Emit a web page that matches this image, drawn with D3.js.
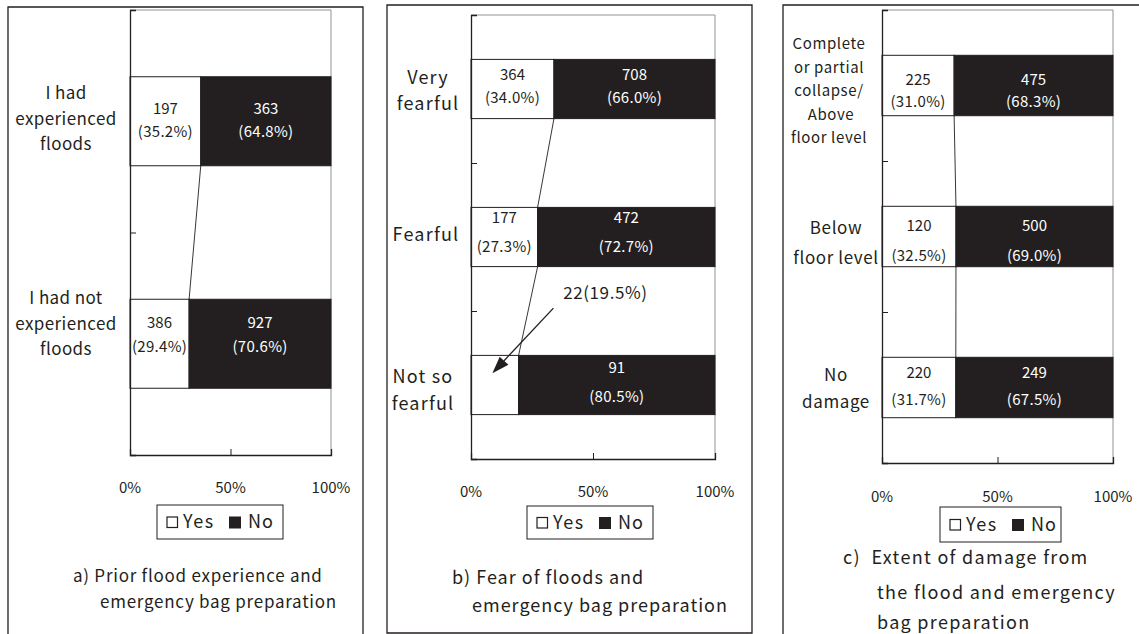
<!DOCTYPE html>
<html><head><meta charset="utf-8">
<script src="https://cdn.jsdelivr.net/npm/d3@7"></script>
<style>
body{margin:0;background:#fff}
svg{display:block}
text{font-family:"Noto Sans CJK JP","Noto Sans",sans-serif;fill:#231f20}
</style>
</head><body>
<svg id="chart" width="1139" height="634"></svg>
<script>
// ---------------- DATA ----------------
const seriesNames = ["Yes", "No"];
const xTickValues = [0, 0.5, 1];
const xTickLabels = ["0%", "50%", "100%"];

const catsA = [["I had", "experienced", "floods"], ["I had not", "experienced", "floods"]];
const yesCountA = [197, 386];
const noCountA = [363, 927];
const yesPctA = [35.2, 29.4];
const noPctA = [64.8, 70.6];
const captionA = ["a) Prior flood experience and", "emergency bag preparation"];

const catsB = [["Very", "fearful"], ["Fearful"], ["Not so", "fearful"]];
const yesCountB = [364, 177, 22];
const noCountB = [708, 472, 91];
const yesPctB = [34.0, 27.3, 19.5];
const noPctB = [66.0, 72.7, 80.5];
const captionB = ["b) Fear of floods and", "emergency bag preparation"];

const catsC = [["Complete", "or partial", "collapse/", "\u00a0Above", "floor level"], ["Below", "floor level"], ["No", "damage"]];
const yesCountC = [225, 120, 220];
const noCountC = [475, 500, 249];
const yesPctC = [31.0, 32.5, 31.7];
const noPctC = [68.3, 69.0, 67.5];
const captionC = ["c)  Extent of damage from", "the flood and emergency", "bag preparation"];

// ---------------- DRAWING ----------------
const INK = "#231f20";
const svg = d3.select("#chart");
const fmtPct = d3.format(".1f");

function drawPanel(cfg) {
  const n = cfg.cats.length;
  const rows = cfg.cats.map((c, i) => ({ i, Yes: cfg.yesPct[i], No: cfg.noPct[i] }));
  const counts = { Yes: cfg.yesCount, No: cfg.noCount };
  const pcts = { Yes: cfg.yesPct, No: cfg.noPct };
  const stacked = d3.stack().keys(seriesNames).offset(d3.stackOffsetExpand)(rows);
  const P = cfg.plot;
  const x = d3.scaleLinear().domain([0, 1]).range([P.l, P.r]);
  const y = d3.scaleBand().domain(d3.range(n)).range([P.t, P.b]).paddingInner(0.6).paddingOuter(0.3);
  const yb = d3.scaleLinear().domain([0, n]).range([P.t, P.b]);
  const g = svg.append("g");

  // outer frame
  const F = cfg.frame;
  const fp = d3.path();
  fp.moveTo(F.x0, F.y1); fp.lineTo(F.x0, F.y0); fp.lineTo(F.x1, F.y0); fp.lineTo(F.x1, F.y1);
  if (F.closed) fp.closePath();
  g.append("path").attr("d", fp.toString()).attr("fill", "none").attr("stroke", INK).attr("stroke-width", 1.3);

  // plot-area border (top / right)
  const pp = d3.path();
  pp.moveTo(P.l, P.t); pp.lineTo(P.r, P.t); pp.lineTo(P.r, P.b);
  g.append("path").attr("d", pp.toString()).attr("fill", "none").attr("stroke", "#8e949a").attr("stroke-width", 1);

  // bars
  const layer = g.selectAll(".layer").data(stacked).join("g")
    .attr("fill", d => d.key === "Yes" ? "#fff" : INK)
    .attr("stroke", INK).attr("stroke-width", 1);
  layer.selectAll("rect").data(d => d).join("rect")
    .attr("x", d => x(d[0]))
    .attr("width", d => x(d[1]) - x(d[0]))
    .attr("y", d => y(d.data.i))
    .attr("height", y.bandwidth());

  // series lines joining Yes ends
  const yesLayer = stacked[0];
  for (let i = 0; i < n - 1; i++) {
    g.append("line")
      .attr("x1", x(yesLayer[i][1])).attr("y1", y(i) + y.bandwidth())
      .attr("x2", x(yesLayer[i + 1][1])).attr("y2", y(i + 1))
      .attr("stroke", INK).attr("stroke-width", 0.9);
  }

  // axes
  const ax = g.append("g").attr("transform", `translate(0,${P.b})`)
    .call(d3.axisBottom(x).tickValues(xTickValues).tickSize(-6).tickFormat(""));
  ax.select(".domain").attr("stroke", INK).attr("stroke-width", 1.3);
  ax.selectAll(".tick line").attr("stroke", INK);
  const ay = g.append("g").attr("transform", `translate(${P.l},0)`)
    .call(d3.axisLeft(yb).tickValues(d3.range(n + 1)).tickSize(-6).tickFormat(""));
  ay.select(".domain").attr("stroke", INK).attr("stroke-width", 1.3);
  ay.selectAll(".tick line").attr("stroke", INK);

  // x tick labels
  g.selectAll(".xl").data(xTickValues).join("text")
    .attr("x", d => x(d)).attr("y", cfg.tickLabelY).attr("dy", "0.35em")
    .attr("text-anchor", "middle").style("font-size", "15px")
    .text((d, i) => xTickLabels[i]);

  // value labels
  stacked.forEach(s => {
    s.forEach((d, i) => {
      if (s.key === "Yes" && cfg.calloutIndex === i) return;
      const cx = (x(d[0]) + x(d[1])) / 2;
      const cy = y(i) + y.bandwidth() / 2;
      const col = s.key === "Yes" ? INK : "#fff";
      g.append("text").attr("x", cx).attr("y", cy + cfg.valDy[i][0]).attr("dy", "0.35em")
        .attr("text-anchor", "middle").style("font-size", "15px").style("fill", col)
        .text(counts[s.key][i]);
      g.append("text").attr("x", cx).attr("y", cy + cfg.valDy[i][1]).attr("dy", "0.35em")
        .attr("text-anchor", "middle").style("font-size", "15px").style("fill", col)
        .style("letter-spacing", "0.3px")
        .text(`(${fmtPct(pcts[s.key][i])}%)`);
    });
  });

  // category labels
  cfg.cats.forEach((lines, i) => {
    const lh = cfg.catLineH[i];
    const cy = y(i) + y.bandwidth() / 2 + cfg.catDy[i];
    const top = cy - (lines.length - 1) * lh / 2;
    lines.forEach((t, j) => {
      g.append("text").attr("x", cfg.catX[i]).attr("y", top + j * lh).attr("dy", "0.35em")
        .attr("text-anchor", "middle").style("font-size", cfg.catFont[i] + "px")
        .style("letter-spacing", cfg.catLS + "px")
        .text(t);
    });
  });

  // legend
  const L = cfg.legend;
  const lg = g.append("g").attr("transform", `translate(${L.x},${L.y})`);
  lg.append("rect").attr("width", L.w).attr("height", L.h).attr("fill", "#fff").attr("stroke", INK).attr("stroke-width", 1);
  const cyL = L.h / 2;
  lg.append("rect").attr("x", 10).attr("y", cyL - 5).attr("width", 10.5).attr("height", 10.5)
    .attr("fill", "#fff").attr("stroke", INK).attr("stroke-width", 1.2);
  lg.append("text").attr("x", 26).attr("y", cyL).attr("dy", "0.36em").style("font-size", "18px")
    .style("letter-spacing", "1.5px").text(seriesNames[0]);
  lg.append("rect").attr("x", 72).attr("y", cyL - 5.5).attr("width", 12).attr("height", 12).attr("fill", INK);
  lg.append("text").attr("x", 91).attr("y", cyL).attr("dy", "0.36em").style("font-size", "18px")
    .style("letter-spacing", "1px").text(seriesNames[1]);

  // caption
  cfg.caption.forEach((t, j) => {
    g.append("text").attr("x", cfg.capX[j]).attr("y", cfg.capY[j]).attr("dy", "0.35em")
      .style("font-size", cfg.capFont + "px").style("letter-spacing", cfg.capLS + "px")
      .style("white-space", "pre").text(t);
  });

  return { g, x, y, stacked };
}

// Panel a
drawPanel({
  cats: catsA, yesCount: yesCountA, noCount: noCountA, yesPct: yesPctA, noPct: noPctA, caption: captionA,
  frame: { x0: 8, y0: 7, x1: 363, y1: 640, closed: false },
  plot: { l: 130, t: 10, r: 331, b: 455 },
  catX: [66, 66], catFont: [17, 17], catLineH: [25.5, 25.5], catDy: [-2.5, -20], catLS: 0.4,
  valDy: [[-13, 10], [-21, 3]],
  tickLabelY: 488,
  legend: { x: 157, y: 505, w: 126, h: 34 },
  capX: [73, 100], capY: [576, 602], capFont: 17, capLS: 0.75
});

// Panel b
const pb = drawPanel({
  cats: catsB, yesCount: yesCountB, noCount: noCountB, yesPct: yesPctB, noPct: noPctB, caption: captionB,
  frame: { x0: 387, y0: 5, x1: 752, y1: 633, closed: true },
  plot: { l: 471, t: 15, r: 715, b: 459 },
  catX: [428, 426, 423], catFont: [18, 18, 18], catLineH: [26, 26, 27], catDy: [2, -2, 5.5], catLS: 1.2,
  valDy: [[-14.5, 8.5], [-19, 10], [-17, 12]],
  calloutIndex: 2,
  tickLabelY: 492,
  legend: { x: 527, y: 506, w: 126, h: 33 },
  capX: [452, 472], capY: [578, 606], capFont: 18, capLS: 1
});

// callout in panel b for the small "Yes" segment
{
  const i = 2;
  const seg = pb.stacked[0][i];
  const tipX = pb.x(seg[1] * 0.45);
  const tipY = pb.y(i) + pb.y.bandwidth() * 0.3;
  const sx = tipX + 61, sy = tipY - 65;
  const ang = Math.atan2(tipY - sy, tipX - sx);
  const len = 17, half = 6;
  const bx = tipX - len * Math.cos(ang), by = tipY - len * Math.sin(ang);
  pb.g.append("line").attr("x1", sx).attr("y1", sy).attr("x2", bx).attr("y2", by)
    .attr("stroke", INK).attr("stroke-width", 1.3);
  pb.g.append("path")
    .attr("d", d3.line()([[tipX, tipY],
      [bx + half * Math.sin(ang), by - half * Math.cos(ang)],
      [bx - half * Math.sin(ang), by + half * Math.cos(ang)]]) + "Z")
    .attr("fill", INK);
  pb.g.append("text").attr("x", tipX + 113).attr("y", tipY - 80).attr("dy", "0.35em")
    .attr("text-anchor", "middle").style("font-size", "17px").style("letter-spacing", "0.6px")
    .text(`${yesCountB[i]}(${fmtPct(yesPctB[i])}%)`);
}

// Panel c
drawPanel({
  cats: catsC, yesCount: yesCountC, noCount: noCountC, yesPct: yesPctC, noPct: noPctC, caption: captionC,
  frame: { x0: 783, y0: 5, x1: 1160, y1: 640, closed: false },
  plot: { l: 882, t: 10, r: 1113, b: 463 },
  catX: [829, 836, 836], catFont: [15, 17, 17], catLineH: [23.5, 30, 27], catDy: [5.5, 6.5, 1], catLS: 0.6,
  valDy: [[-6, 16.5], [-10.5, 19.5], [-14.5, 12.5]],
  tickLabelY: 497,
  legend: { x: 940, y: 507, w: 121, h: 35 },
  capX: [843, 877, 877], capY: [558, 593, 623], capFont: 18, capLS: 1.3
});
</script>
</body></html>
